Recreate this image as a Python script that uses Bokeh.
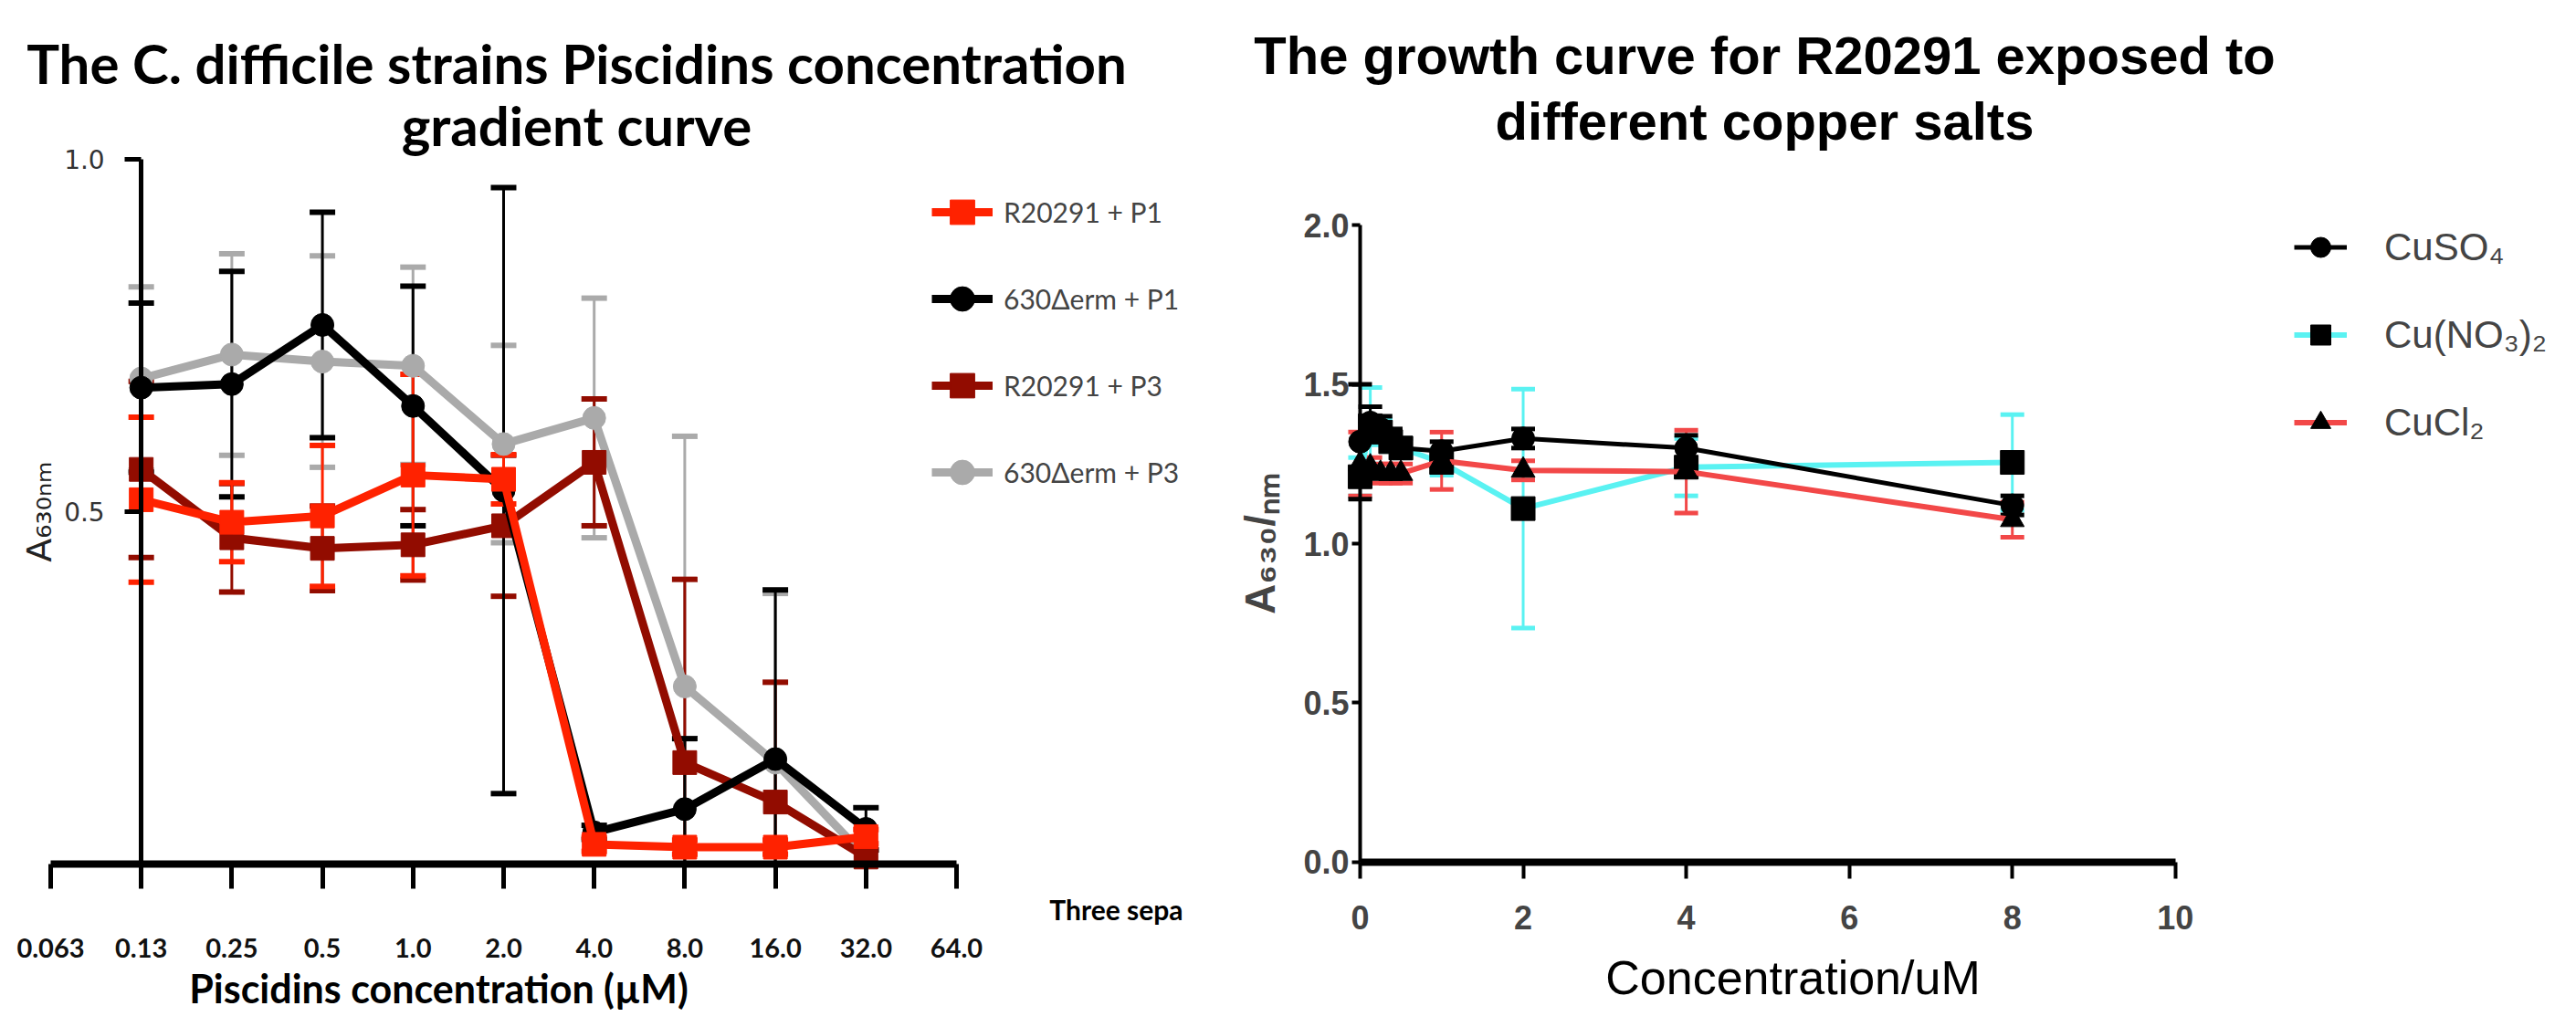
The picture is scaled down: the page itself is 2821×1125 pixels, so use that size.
from bokeh.plotting import figure
from bokeh.models import (ColumnDataSource, Whisker, TeeHead, Legend, LegendItem,
                          FixedTicker, Range1d, Label, NumeralTickFormatter)
from bokeh.layouts import row
from bokeh.embed import file_html
from bokeh.resources import INLINE

# ---------------- left chart data ----------------
conc_labels = ["0.063", "0.13", "0.25", "0.5", "1.0", "2.0", "4.0", "8.0", "16.0", "32.0", "64.0"]
conc_measured = ["0.13", "0.25", "0.5", "1.0", "2.0", "4.0", "8.0", "16.0", "32.0"]

r20291_p1 = [0.517, 0.485, 0.494, 0.552, 0.546, 0.028, 0.024, 0.024, 0.039]
r20291_p1_err = [0.117, 0.056, 0.100, 0.143, 0.035, 0.010, 0.010, 0.010, 0.010]
erm_p1 = [0.676, 0.681, 0.765, 0.650, 0.530, 0.045, 0.078, 0.149, 0.050]
erm_p1_err = [0.120, 0.160, 0.160, 0.170, 0.430, 0.010, 0.100, 0.240, 0.030]
r20291_p3 = [0.560, 0.463, 0.448, 0.453, 0.480, 0.570, 0.144, 0.088, 0.010]
r20291_p3_err = [0.125, 0.077, 0.060, 0.050, 0.100, 0.090, 0.260, 0.170, 0.010]
erm_p3 = [0.689, 0.723, 0.713, 0.707, 0.596, 0.633, 0.252, 0.144, 0.010]
erm_p3_err = [0.130, 0.143, 0.150, 0.140, 0.140, 0.170, 0.355, 0.240, 0.010]

left_series = ["R20291 + P1", "630\u0394erm + P1", "R20291 + P3", "630\u0394erm + P3"]
left_title = ["The C. difficile strains Piscidins concentration", "gradient curve"]
left_xlabel = "Piscidins concentration (\u00b5M)"
left_ylabel = "A\u2086\u2083\u2080\u2099\u2098"
left_note = "Three sepa"

# ---------------- right chart data ----------------
cu_conc = [0, 0.125, 0.25, 0.375, 0.5, 1, 2, 4, 8]
cuso4 = [1.32, 1.38, 1.36, 1.33, 1.30, 1.29, 1.33, 1.30, 1.12]
cuso4_err = [0.18, 0.05, 0.04, 0.03, 0.03, 0.03, 0.03, 0.04, 0.03]
cuno3 = [1.21, 1.37, 1.35, 1.32, 1.30, 1.255, 1.11, 1.24, 1.255]
cuno3_err = [0.06, 0.12, 0.04, 0.03, 0.03, 0.04, 0.375, 0.09, 0.15]
cucl2 = [1.25, 1.24, 1.22, 1.22, 1.22, 1.26, 1.23, 1.226, 1.075]
cucl2_err = [0.10, 0.03, 0.03, 0.03, 0.03, 0.09, 0.03, 0.13, 0.055]

right_series = ["CuSO\u2084", "Cu(NO\u2083)\u2082", "CuCl\u2082"]
right_title = ["The growth curve for R20291 exposed to", "different copper salts"]
right_xlabel = "Concentration/uM"
right_ylabel = "A\u2086\u2083\u2080/\u2099\u2098"
right_xticks = [0, 2, 4, 6, 8, 10]
right_yticks = [0, 0.5, 1.0, 1.5, 2.0]


def add_series(p, xs, ys, errs, line_color, mark_color, marker, size, lw,
               bar_w=3, cap=28, cap_w=6):
    lo = [max(0.0, y - e) for y, e in zip(ys, errs)]
    hi = [y + e for y, e in zip(ys, errs)]
    src = ColumnDataSource(dict(x=xs, y=ys, lo=lo, hi=hi))
    w = Whisker(source=src, base="x", upper="hi", lower="lo",
                line_color=line_color, line_width=bar_w,
                upper_head=TeeHead(size=cap, line_color=line_color, line_width=cap_w),
                lower_head=TeeHead(size=cap, line_color=line_color, line_width=cap_w))
    p.add_layout(w)
    rl = p.line("x", "y", source=src, line_color=line_color, line_width=lw)
    rm = p.scatter("x", "y", source=src, marker=marker, size=size,
                   fill_color=mark_color, line_color=mark_color)
    return [rl, rm]


def screen_label(p, text, x, y, font, size, style="normal", align="center", angle=0.0):
    p.add_layout(Label(x=x, y=y, x_units="screen", y_units="screen", text=text,
                       text_font=font, text_font_size=size, text_font_style=style,
                       text_align=align, text_baseline="middle", angle=angle,
                       text_color="#000000"))


# ================= LEFT FIGURE (frame = whole canvas) =================
LFONT = "Lato"
LW, LH = 1297, 1108
p1 = figure(width=LW, height=LH, output_backend="svg", toolbar_location=None,
            x_range=Range1d(-0.554, 12.52), y_range=Range1d(-0.2098, 1.2254),
            min_border=0)
p1.outline_line_color = None
p1.grid.grid_line_color = None

xi = [conc_labels.index(c) for c in conc_measured]

r_gray = add_series(p1, xi, erm_p3, erm_p3_err, "#aaaaaa", "#aaaaaa", "circle", 25, 9)
r_dred = add_series(p1, xi, r20291_p3, r20291_p3_err, "#920c00", "#920c00", "square", 26, 9)
r_blk = add_series(p1, xi, erm_p1, erm_p1_err, "#000000", "#000000", "circle", 25, 9)
r_red = add_series(p1, xi, r20291_p1, r20291_p1_err, "#ff2200", "#ff2200", "square", 26, 9)

xa = p1.xaxis[0]
xa.fixed_location = 0
xa.ticker = FixedTicker(ticks=list(range(len(conc_labels))))
xa.major_label_overrides = {i: lab for i, lab in enumerate(conc_labels)}
xa.bounds = (0, len(conc_labels) - 1)
xa.axis_line_width = 8
xa.major_tick_line_width = 5
xa.major_tick_out = 27
xa.major_tick_in = 0
xa.minor_tick_line_color = None
xa.major_label_standoff = 54
xa.major_label_text_font = LFONT
xa.major_label_text_font_style = "bold"
xa.major_label_text_font_size = "29px"
xa.major_label_text_color = "#111111"

ya = p1.yaxis[0]
ya.fixed_location = 1
ya.bounds = (0, 1.0)
ya.ticker = FixedTicker(ticks=[0.5, 1.0])
ya.formatter = NumeralTickFormatter(format="0.0")
ya.axis_line_width = 5
ya.major_tick_line_width = 5
ya.major_tick_out = 18
ya.major_tick_in = 0
ya.minor_tick_line_color = None
ya.major_label_standoff = 22
ya.major_label_text_font = "DejaVu Sans"
ya.major_label_text_font_size = "28px"
ya.major_label_text_color = "#333333"
ya.axis_label = left_ylabel
ya.axis_label_text_font = "DejaVu Sans"
ya.axis_label_text_font_style = "normal"
ya.axis_label_text_font_size = "38px"
ya.axis_label_text_color = "#222222"
ya.axis_label_standoff = 2

screen_label(p1, left_title[0], 631, LH - 68, LFONT, "60px", "bold")
screen_label(p1, left_title[1], 631, LH - 136, LFONT, "60px", "bold")
screen_label(p1, left_xlabel, 480, LH - 1082, LFONT, "43px", "bold")
screen_label(p1, left_note, LW - 2, LH - 995, LFONT, "30px", "bold", align="right")

leg1 = Legend(items=[LegendItem(label=left_series[0], renderers=r_red),
                     LegendItem(label=left_series[1], renderers=r_blk),
                     LegendItem(label=left_series[2], renderers=r_dred),
                     LegendItem(label=left_series[3], renderers=r_gray)],
              location=(1020, LH - 552), glyph_width=67, glyph_height=70, label_height=40,
              spacing=25, label_standoff=12, padding=0, margin=0,
              border_line_color=None, background_fill_alpha=0,
              label_text_font=LFONT, label_text_font_size="30px")
p1.add_layout(leg1, "center")

# ================= RIGHT FIGURE (frame = whole canvas) =================
RFONT = "Liberation Sans"
RW, RH = 1508, 1108
p2 = figure(width=RW, height=RH, output_backend="svg", toolbar_location=None,
            x_range=Range1d(-2.15, 14.74), y_range=Range1d(-0.47, 2.705),
            min_border=0)
p2.outline_line_color = None
p2.grid.grid_line_color = None

s_no3 = add_series(p2, cu_conc, cuno3, cuno3_err, "#5af2f2", "#000000", "square", 26, 6,
                   bar_w=3, cap=26, cap_w=5)
s_cl = add_series(p2, cu_conc, cucl2, cucl2_err, "#f24848", "#000000", "triangle", 26, 6,
                  bar_w=3, cap=26, cap_w=5)
s_so4 = add_series(p2, cu_conc, cuso4, cuso4_err, "#000000", "#000000", "circle", 25, 5,
                   bar_w=3, cap=26, cap_w=5)

xb = p2.xaxis[0]
xb.fixed_location = 0
xb.ticker = FixedTicker(ticks=right_xticks)
xb.bounds = (right_xticks[0], right_xticks[-1])
xb.axis_line_width = 8
xb.major_tick_line_width = 4
xb.major_tick_out = 18
xb.major_tick_in = 0
xb.minor_tick_line_color = None
xb.major_label_standoff = 30
xb.major_label_text_font = RFONT
xb.major_label_text_font_style = "bold"
xb.major_label_text_font_size = "36px"

yb = p2.yaxis[0]
yb.fixed_location = 0
yb.bounds = (right_yticks[0], right_yticks[-1])
yb.ticker = FixedTicker(ticks=right_yticks)
yb.formatter = NumeralTickFormatter(format="0.0")
yb.axis_line_width = 4
yb.major_tick_line_width = 4
yb.major_tick_out = 9
yb.major_tick_in = 0
yb.minor_tick_line_color = None
yb.major_label_standoff = 3
yb.major_label_text_font = RFONT
yb.major_label_text_font_style = "bold"
yb.major_label_text_font_size = "36px"
yb.axis_label = right_ylabel
yb.axis_label_text_font = RFONT
yb.axis_label_text_font_style = "bold"
yb.axis_label_text_font_size = "46px"
yb.axis_label_standoff = 18

screen_label(p2, right_title[0], 635, RH - 60, RFONT, "58px", "bold")
screen_label(p2, right_title[1], 635, RH - 132, RFONT, "58px", "bold")
screen_label(p2, right_xlabel, 666, RH - 1070, RFONT, "52px", "normal")

leg2 = Legend(items=[LegendItem(label=right_series[0], renderers=s_so4),
                     LegendItem(label=right_series[1], renderers=s_no3),
                     LegendItem(label=right_series[2], renderers=s_cl)],
              location=(1215, RH - 490), glyph_width=58, glyph_height=55, label_height=44,
              spacing=41, label_standoff=41, padding=0, margin=0,
              border_line_color=None, background_fill_alpha=0,
              label_text_font=RFONT, label_text_font_size="42px")
p2.add_layout(leg2, "center")

layout = row(p1, p2)
open("out.html", "w").write(file_html(layout, INLINE))
